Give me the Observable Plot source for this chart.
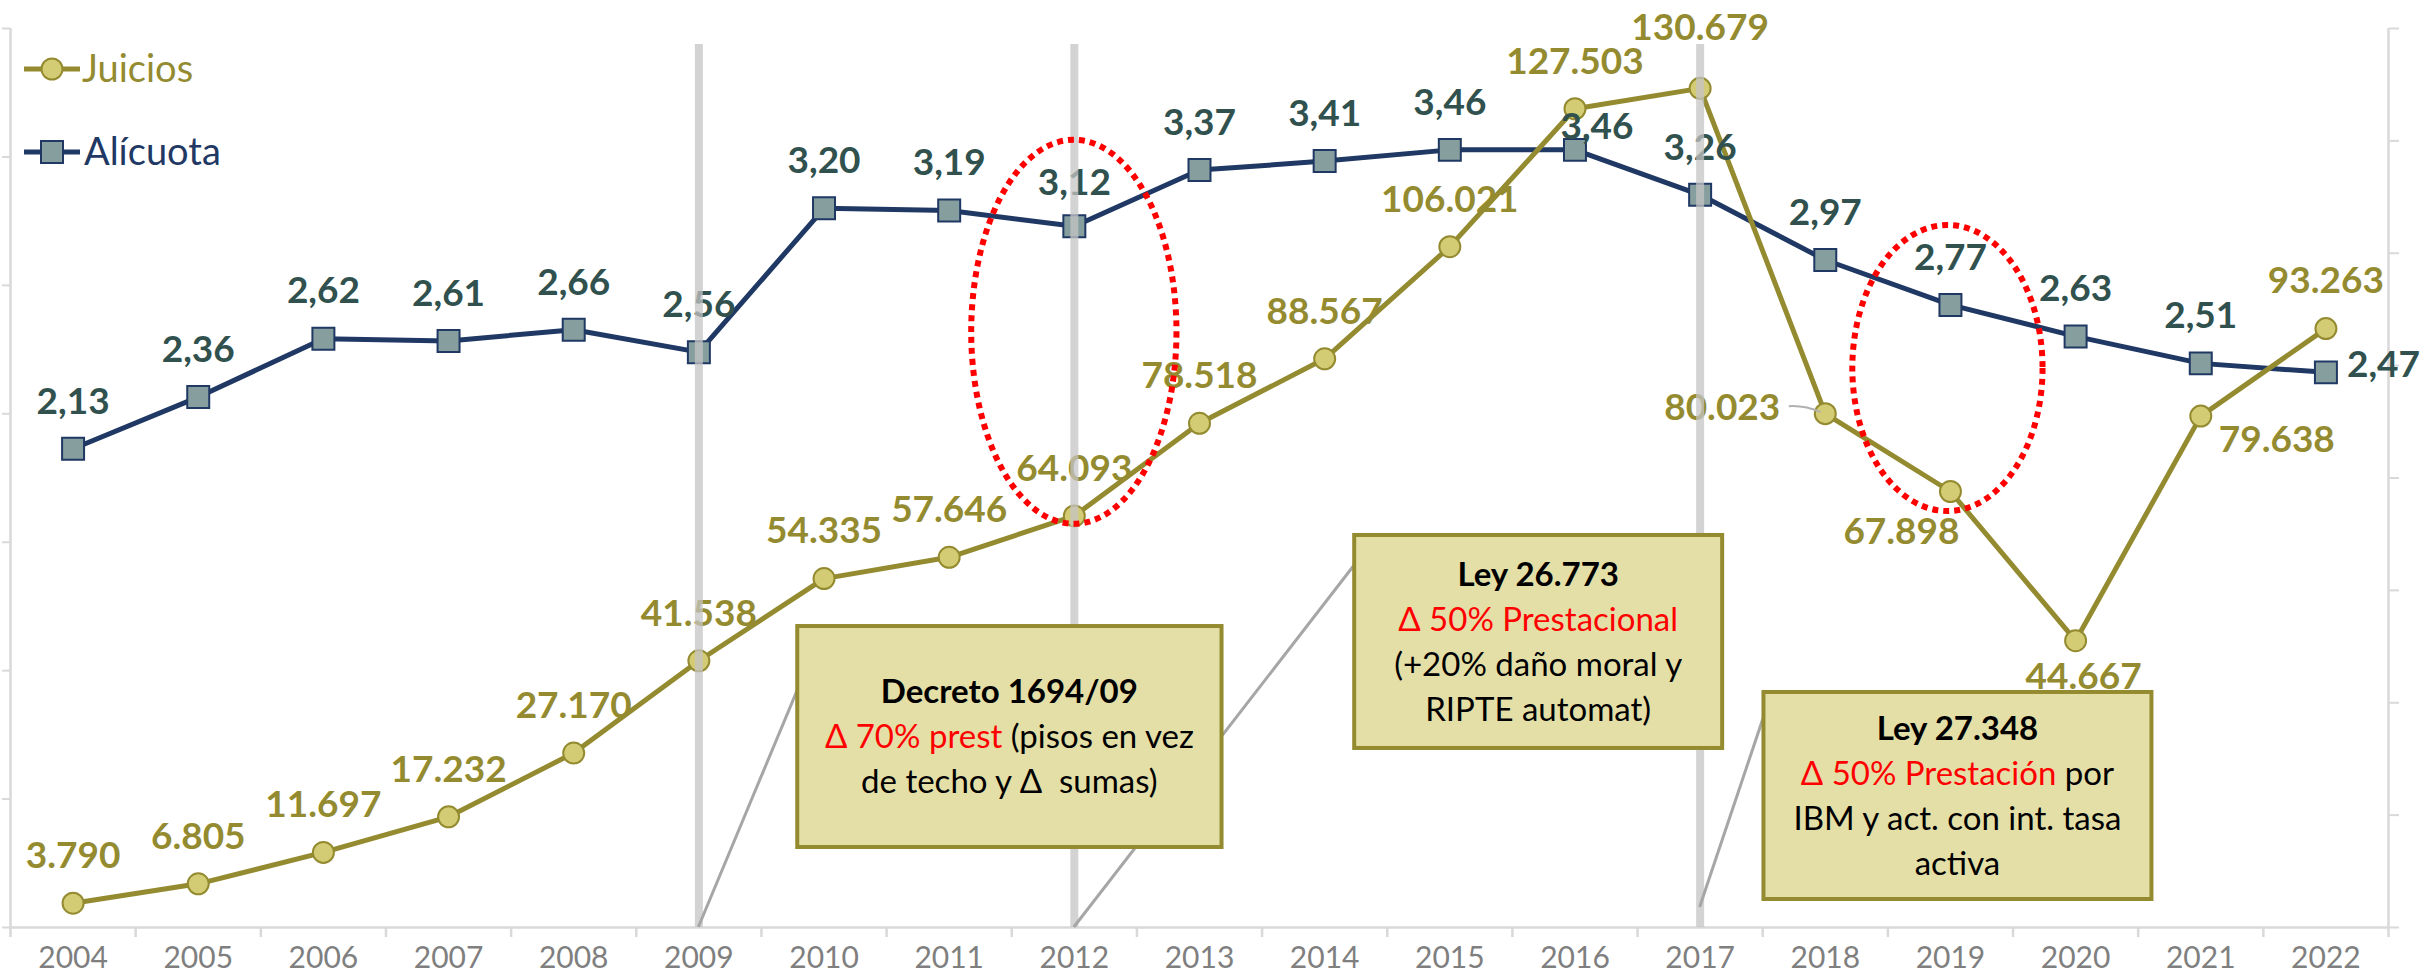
<!DOCTYPE html>
<html>
<head>
<meta charset="utf-8">
<script src="https://cdn.jsdelivr.net/npm/d3@7"></script>
<script src="https://cdn.jsdelivr.net/npm/@observablehq/plot@0.6"></script>
<style>
  html, body { margin: 0; padding: 0; background: #ffffff; }
  #chart { width: 2425px; height: 979px; }
</style>
</head>
<body>
<div id="chart"></div>
<script>
// ---------------- DATA ----------------
const years = [2004, 2005, 2006, 2007, 2008, 2009, 2010, 2011, 2012, 2013, 2014, 2015, 2016, 2017, 2018, 2019, 2020, 2021, 2022];
const juicios = [3790, 6805, 11697, 17232, 27170, 41538, 54335, 57646, 64093, 78518, 88567, 106021, 127503, 130679, 80023, 67898, 44667, 79638, 93263];
const alicuota = [2.13, 2.36, 2.62, 2.61, 2.66, 2.56, 3.20, 3.19, 3.12, 3.37, 3.41, 3.46, 3.46, 3.26, 2.97, 2.77, 2.63, 2.51, 2.47];
const juiciosTicks = [0, 20000, 40000, 60000, 80000, 100000, 120000, 140000];
const alicuotaTicks = [0, 0.5, 1, 1.5, 2, 2.5, 3, 3.5, 4];
const eventYears = [2009, 2012, 2017];
const seriesNames = ["Juicios", "Alícuota"];

// annotation texts
const noteDecreto = [
  [{t: "Decreto 1694/09", b: true}],
  [{t: "Δ 70% prest", c: "red"}, {t: " (pisos en vez"}],
  [{t: "de techo y Δ  sumas)"}]
];
const noteLey26773 = [
  [{t: "Ley 26.773", b: true}],
  [{t: "Δ 50% Prestacional", c: "red"}],
  [{t: "(+20% daño moral y"}],
  [{t: "RIPTE automat)"}]
];
const noteLey27348 = [
  [{t: "Ley 27.348", b: true}],
  [{t: "Δ 50% Prestación", c: "red"}, {t: " por"}],
  [{t: "IBM y act. con int. tasa"}],
  [{t: "activa"}]
];

// ---------------- STYLE / LAYOUT ----------------
const K = 140000 / 4;                 // right axis (0–4) mapped onto left axis (0–140000)
const olive = "#948B30", oliveText = "#948B30", dotFill = "#D4CC74";
const navy = "#1F3864", squareFill = "#879E9E", tealText = "#30514E";
const axisGray = "#D9D9D9";
const boxFill = "#E4DFA7", boxStroke = "#948B30";

const loc = d3.formatLocale({decimal: ",", thousands: ".", grouping: [3], currency: ["$", ""]});
const fmtJ = loc.format(",d");
const fmtA = loc.format(".2f");

const jData = years.map((year, i) => ({year, value: juicios[i]}));
const aData = years.map((year, i) => ({year, value: alicuota[i], scaled: alicuota[i] * K}));

const jPlace = {2017: {dy: -60}, 2018: {dx: -45, dy: -5, anchor: "end"}, 2019: {dx: -49, dy: 41}, 2020: {dx: 8, dy: 36}, 2021: {dx: 76, dy: 24}};
const aPlace = {2012: {dy: -43}, 2016: {dx: 22, dy: -23}, 2022: {dx: 21, dy: -7, anchor: "start"}};

const xDomain = [years[0] - 0.5, years[years.length - 1] + 0.5];
const boundaries = d3.range(xDomain[0], xDomain[1] + 0.01, 1);

const labelMarks = [];
aData.forEach(d => {
  const p = Object.assign({dx: 0, dy: -47, anchor: "middle"}, aPlace[d.year] || {});
  labelMarks.push(Plot.text([d], {x: "year", y: "scaled", text: d => fmtA(d.value), dx: p.dx, dy: p.dy, textAnchor: p.anchor,
    fill: tealText, fontSize: 37, fontWeight: "bold"}));
});
jData.forEach(d => {
  const p = Object.assign({dx: 0, dy: -47, anchor: "middle"}, jPlace[d.year] || {});
  labelMarks.push(Plot.text([d], {x: "year", y: "value", text: d => fmtJ(d.value), dx: p.dx, dy: p.dy, textAnchor: p.anchor,
    fill: oliveText, fontSize: 37, fontWeight: "bold"}));
});

const plot = Plot.plot({
  width: 2425,
  height: 979,
  marginLeft: 10,
  marginRight: 37,
  marginTop: 28,
  marginBottom: 52,
  style: {fontFamily: "Lato, sans-serif", fontSize: "30px", background: "#ffffff", overflow: "visible"},
  x: {type: "linear", domain: xDomain, axis: null, label: null},
  y: {domain: [0, 140000], axis: null, label: null},
  marks: [
    Plot.ruleY([0], {stroke: axisGray, strokeWidth: 2.5}),
    Plot.ruleX(xDomain, {y1: 0, y2: 140000, stroke: axisGray, strokeWidth: 2.5}),
    Plot.axisX({ticks: boundaries, tickSize: 10, tickFormat: () => "", stroke: axisGray, strokeWidth: 2.5, label: null}),
    Plot.axisX({ticks: years, tickSize: 0, tickPadding: 19, tickFormat: d => String(d), color: "#7F7F7F", fontSize: 30, label: null}),
    Plot.axisY({anchor: "left", ticks: juiciosTicks, tickSize: 8, tickFormat: () => "", stroke: axisGray, strokeWidth: 2, label: null}),
    Plot.axisY({anchor: "right", ticks: alicuotaTicks.map(v => v * K), tickSize: 10, tickFormat: () => "", stroke: axisGray, strokeWidth: 2, label: null}),
    Plot.line(aData, {x: "year", y: "scaled", stroke: navy, strokeWidth: 5}),
    Plot.dot(aData, {x: "year", y: "scaled", symbol: "square", r: 12.4, fill: squareFill, stroke: navy, strokeWidth: 2}),
    Plot.line(jData, {x: "year", y: "value", stroke: olive, strokeWidth: 5}),
    Plot.dot(jData, {x: "year", y: "value", r: 10.5, fill: dotFill, stroke: olive, strokeWidth: 2}),
    ...labelMarks,
    Plot.ruleX(eventYears, {y1: 0, y2: 137500, stroke: "#C4C4C4", strokeWidth: 8, strokeOpacity: 0.75})
  ]
});

document.getElementById("chart").appendChild(plot);

// ---------------- ANNOTATIONS (positioned through the plot's scales) ----------------
const X = plot.scale("x"), Y = plot.scale("y");
const px = v => X.apply(v), py = v => Y.apply(v);
const svg = d3.select(plot);
const ann = svg.append("g");

const notes = [
  {year: 2009, fromY: 0, x1: 2009.79, x2: 2013.18, yTop: 46870, yBot: 12460, leadY: 36900, lines: noteDecreto},
  {year: 2012, fromY: 0, x1: 2014.24, x2: 2017.18, yTop: 61050, yBot: 27880, leadY: 56370, lines: noteLey26773},
  {year: 2017, fromY: 3100, x1: 2017.51, x2: 2020.61, yTop: 36600, yBot: 4360, leadY: 32700, lines: noteLey27348}
];

// leader lines (under the boxes)
notes.forEach(n => {
  ann.append("line")
    .attr("x1", px(n.year)).attr("y1", py(n.fromY))
    .attr("x2", px(n.x1)).attr("y2", py(n.leadY))
    .attr("stroke", "#A6A6A6").attr("stroke-width", 3);
});
// label leader for 2018
{
  const d = jData.find(d => d.year === 2018);
  ann.append("path")
    .attr("d", `M${px(d.year) - 36},${py(d.value) - 7} Q${px(d.year) - 20},${py(d.value) - 8} ${px(d.year) - 4},${py(d.value) - 1}`)
    .attr("fill", "none").attr("stroke", "#B0B0B0").attr("stroke-width", 2);
}

notes.forEach(n => {
  const x1 = px(n.x1), x2 = px(n.x2), y1 = py(n.yTop), y2 = py(n.yBot);
  ann.append("rect").attr("x", x1).attr("y", y1).attr("width", x2 - x1).attr("height", y2 - y1)
    .attr("fill", boxFill).attr("stroke", boxStroke).attr("stroke-width", 4);
  const cx = (x1 + x2) / 2, cy = (y1 + y2) / 2, lh = 45;
  const n0 = n.lines.length;
  n.lines.forEach((segs, i) => {
    const t = ann.append("text")
      .attr("x", cx).attr("y", cy + (i - (n0 - 1) / 2) * lh)
      .attr("dy", "0.35em").attr("text-anchor", "middle")
      .attr("font-family", "Lato, sans-serif").attr("font-size", 33)
      .style("white-space", "pre");
    segs.forEach(s => t.append("tspan")
      .attr("fill", s.c || "#000000")
      .attr("font-weight", s.b ? "bold" : "normal")
      .text(s.t));
  });
});

// red dotted ellipses
const ellipses = [
  {x: 2012, y: 92700, rx: 0.82, ry: 29900},
  {x: 2018.98, y: 87050, rx: 0.76, ry: 22270}
];
ellipses.forEach(e => {
  ann.append("ellipse")
    .attr("cx", px(e.x)).attr("cy", py(e.y))
    .attr("rx", px(e.x + e.rx) - px(e.x)).attr("ry", py(e.y - e.ry) - py(e.y))
    .attr("fill", "none").attr("stroke", "#FF0000").attr("stroke-width", 6)
    .attr("stroke-dasharray", "6 5");
});

// legend
const leg = svg.append("g").attr("font-family", "Lato, sans-serif").attr("font-size", 38).attr("text-anchor", "start");
const l1 = leg.append("g").attr("transform", "translate(0,69)");
l1.append("line").attr("x1", 24).attr("x2", 80).attr("stroke", olive).attr("stroke-width", 5);
l1.append("circle").attr("cx", 52).attr("r", 10.5).attr("fill", dotFill).attr("stroke", olive).attr("stroke-width", 2);
l1.append("text").attr("x", 82).attr("dy", "0.35em").attr("text-anchor", "start").attr("fill", olive).text(seriesNames[0]);
const l2 = leg.append("g").attr("transform", "translate(0,152)");
l2.append("line").attr("x1", 24).attr("x2", 80).attr("stroke", navy).attr("stroke-width", 5);
l2.append("rect").attr("x", 41).attr("y", -11).attr("width", 22).attr("height", 22).attr("fill", squareFill).attr("stroke", navy).attr("stroke-width", 2);
l2.append("text").attr("x", 84).attr("dy", "0.35em").attr("text-anchor", "start").attr("fill", navy).text(seriesNames[1]);
</script>
</body>
</html>
